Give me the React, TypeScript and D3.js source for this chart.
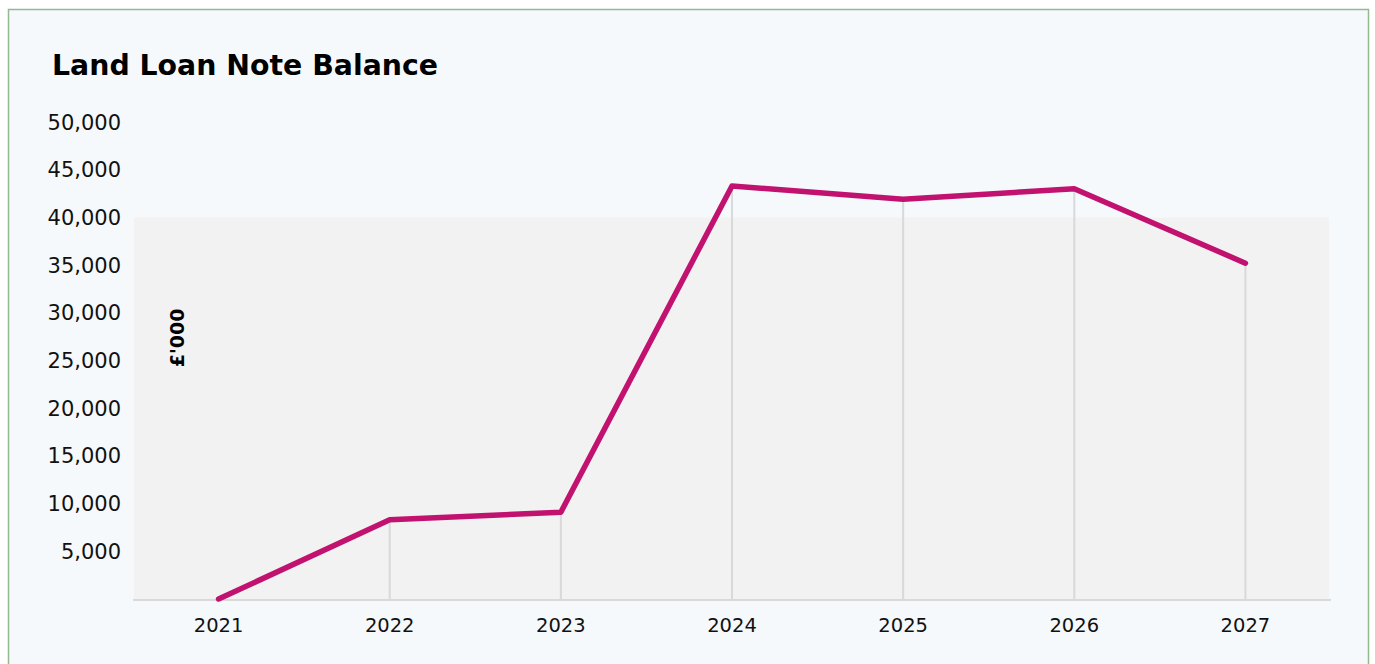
import React from "react";
import * as d3 from "d3";

const years = ["2021", "2022", "2023", "2024", "2025", "2026", "2027"];
const balance = [0, 8300, 9100, 43300, 41900, 43000, 35200];
const yTicks = [5000, 10000, 15000, 20000, 25000, 30000, 35000, 40000, 45000, 50000];
const shadedMax = 40000;
const title = "Land Loan Note Balance";
const yLabel = "£'000";

export default function App() {
  const W = 1375;
  const H = 664;
  const left = 133;
  const right = 1331;
  const top = 122;
  const bottom = 599;

  const x = d3.scaleBand<string>().domain(years).range([left, right]).padding(0);
  const cx = (d: string) => (x(d) as number) + x.bandwidth() / 2;
  const y = d3.scaleLinear().domain([0, 50000]).range([bottom, top]);
  const fmt = d3.format(",");

  const line = d3
    .line<number>()
    .x((_, i) => cx(years[i]))
    .y((v) => y(v));

  const font = "'DejaVu Sans', sans-serif";

  return (
    <svg
      width={W}
      height={H}
      style={{ position: "absolute", left: 0, top: 0 }}
      fontFamily={font}
    >
      <rect x={0} y={0} width={W} height={H} fill="#ffffff" />
      <rect
        x={8.5}
        y={9.5}
        width={1360}
        height={700}
        fill="#f5f9fc"
        stroke="#93b98e"
        strokeWidth={1.5}
      />
      <text
        x={52}
        y={75}
        fontSize={28}
        fontWeight="bold"
        fill="#000"
        textLength={386}
        lengthAdjust="spacingAndGlyphs"
      >
        {title}
      </text>
      <rect
        x={left + 1}
        y={y(shadedMax)}
        width={right - left - 3}
        height={y(0) - y(shadedMax)}
        fill="#f2f2f2"
      />
      {years.map((yr, i) =>
        balance[i] > 0 ? (
          <line
            key={"drop" + yr}
            x1={cx(yr)}
            x2={cx(yr)}
            y1={y(balance[i])}
            y2={y(0)}
            stroke="#d9d9d9"
            strokeWidth={2}
          />
        ) : null
      )}
      <line x1={left} x2={right} y1={y(0) + 1} y2={y(0) + 1} stroke="#d9d9d9" strokeWidth={2} />
      {yTicks.map((t) => (
        <text
          key={"yt" + t}
          x={121}
          y={y(t)}
          dy="0.36em"
          textAnchor="end"
          fontSize={21}
          fill="#111"
        >
          {fmt(t)}
        </text>
      ))}
      {years.map((yr) => (
        <text
          key={"xt" + yr}
          x={cx(yr)}
          y={632}
          textAnchor="middle"
          fontSize={19.5}
          fill="#111"
        >
          {yr}
        </text>
      ))}
      <text
        transform={`translate(184, 338) rotate(-90)`}
        textAnchor="middle"
        fontSize={19}
        fontWeight="bold"
        fill="#000"
      >
        {yLabel}
      </text>
      <path
        d={line(balance) as string}
        fill="none"
        stroke="#c2126f"
        strokeWidth={5.5}
        strokeLinecap="round"
        strokeLinejoin="round"
      />
    </svg>
  );
}
